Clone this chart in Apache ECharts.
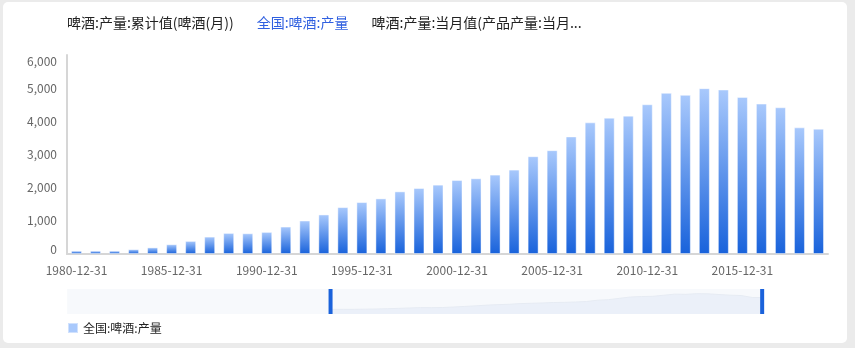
<!DOCTYPE html>
<html>
<head>
<meta charset="utf-8">
<script src="https://cdn.jsdelivr.net/npm/echarts@6/dist/echarts.min.js"></script>
<style>
html,body{margin:0;padding:0;width:855px;height:348px;background:#ebebeb;overflow:hidden;}
#card{position:absolute;left:3px;top:2px;width:844px;height:341px;background:#fff;border-radius:5px;}
#chart{position:absolute;left:0;top:0;width:855px;height:348px;}
</style>
</head>
<body>
<div id="card"></div>
<div id="chart"></div>
<script>
// Categories (year-end dates)
const categories = [
  '1980-12-31','1981-12-31','1982-12-31','1983-12-31','1984-12-31',
  '1985-12-31','1986-12-31','1987-12-31','1988-12-31','1989-12-31',
  '1990-12-31','1991-12-31','1992-12-31','1993-12-31','1994-12-31',
  '1995-12-31','1996-12-31','1997-12-31','1998-12-31','1999-12-31',
  '2000-12-31','2001-12-31','2002-12-31','2003-12-31','2004-12-31',
  '2005-12-31','2006-12-31','2007-12-31','2008-12-31','2009-12-31',
  '2010-12-31','2011-12-31','2012-12-31','2013-12-31','2014-12-31',
  '2015-12-31','2016-12-31','2017-12-31','2018-12-31','2019-12-31'
];
// 全国:啤酒:产量
const production = [
  100, 100, 100, 145, 200, 295, 395, 525, 636, 626,
  667, 828, 1010, 1192, 1414, 1566, 1677, 1889, 1990, 2091,
  2232, 2283, 2394, 2545, 2949, 3131, 3545, 3970, 4111, 4172,
  4515, 4859, 4798, 5000, 4960, 4737, 4535, 4424, 3818, 3778
];
// Earlier (empty) periods shown only in the zoom slider
const earlierCategories = [
  '1956-12-31','1957-12-31','1958-12-31','1959-12-31','1960-12-31','1961-12-31',
  '1962-12-31','1963-12-31','1964-12-31','1965-12-31','1966-12-31','1967-12-31',
  '1968-12-31','1969-12-31','1970-12-31','1971-12-31','1972-12-31','1973-12-31',
  '1974-12-31','1975-12-31','1976-12-31','1977-12-31','1978-12-31','1979-12-31'
];
const yTicks = { min: 0, max: 6000, interval: 1000 };
const seriesNames = ['啤酒:产量:累计值(啤酒(月))', '全国:啤酒:产量', '啤酒:产量:当月值(产品产量:当月值)'];

const zoomCategories = earlierCategories.concat(categories);
const zoomValues = earlierCategories.map(() => null).concat(production);

const chart = echarts.init(document.getElementById('chart'), null, { renderer: 'canvas' });
const font = '"Noto Sans CJK SC", "Noto Sans", sans-serif';

chart.setOption({
  backgroundColor: 'transparent',
  textStyle: { fontFamily: font },
  animation: false,
  legend: [
    {
      top: 16, left: 62, padding: 0,
      icon: 'none', itemWidth: 0, itemGap: 18,
      selectedMode: false,
      textStyle: { fontSize: 14, fontFamily: font, color: '#222' },
      data: [
        { name: seriesNames[0], textStyle: { color: '#222' } },
        { name: seriesNames[1], textStyle: { color: '#3060e0' } },
        { name: seriesNames[2], textStyle: { color: '#222', width: 216, overflow: 'truncate', ellipsis: '...' } }
      ]
    },
    {
      bottom: 14, left: 67, padding: 0,
      icon: 'rect', itemWidth: 10, itemHeight: 10, itemGap: 10,
      selectedMode: false,
      textStyle: { fontSize: 12, fontFamily: font, color: '#222' },
      data: [ { name: seriesNames[1], itemStyle: { color: '#a9c9fc' } } ]
    }
  ],
  grid: [
    { left: 67, right: 27, top: 55, bottom: 94, containLabel: false },
    { left: 67, right: 92, top: 289, height: 25, show: false }
  ],
  xAxis: [
    {
      type: 'category', data: categories, gridIndex: 0,
      axisLine: { show: true, lineStyle: { color: '#d6d6d6', width: 2 } },
      axisTick: { show: false },
      axisLabel: { interval: 4, color: '#666', fontSize: 12, margin: 10, fontFamily: font },
      splitLine: { show: false }
    },
    {
      type: 'category', data: zoomCategories, gridIndex: 1, show: false
    }
  ],
  yAxis: [
    {
      type: 'value', gridIndex: 0, min: yTicks.min, max: yTicks.max, interval: yTicks.interval,
      axisLine: { show: true, lineStyle: { color: '#d6d6d6', width: 2 } },
      axisTick: { show: false },
      splitLine: { show: false },
      axisLabel: {
        color: '#666', fontSize: 12, margin: 10, fontFamily: font,
        formatter: function (v) {
          const s = v.toLocaleString('en-US');
          if (v === yTicks.max) return '{top|' + s + '}';
          if (v === yTicks.min) return '{bot|' + s + '}';
          return s;
        },
        rich: {
          top: { padding: [12, 0, 0, 0], color: '#666', fontSize: 12, fontFamily: font },
          bot: { padding: [0, 0, 10, 0], color: '#666', fontSize: 12, fontFamily: font }
        }
      }
    },
    { type: 'value', gridIndex: 1, show: false }
  ],
  dataZoom: [
    {
      type: 'slider', xAxisIndex: 1, filterMode: 'none',
      start: 37.7, end: 100,
      left: 67, right: 92, top: 289, height: 25,
      showDetail: false, brushSelect: false, moveHandleSize: 0,
      borderColor: 'transparent',
      backgroundColor: '#f7f9fc',
      fillerColor: 'rgba(0,0,0,0)',
      showDataShadow: true,
      dataBackground: {
        lineStyle: { color: '#e6ebf3', width: 1, opacity: 1 },
        areaStyle: { color: '#ebf0f9', opacity: 1 }
      },
      selectedDataBackground: {
        lineStyle: { color: '#e6ebf3', width: 1, opacity: 1 },
        areaStyle: { color: '#ebf0f9', opacity: 1 }
      },
      handleIcon: 'path://M0,0 L4,0 L4,25 L0,25 Z',
      handleSize: '100%',
      handleStyle: { color: '#1a62db', borderColor: '#1a62db', borderWidth: 0 },
      emphasis: { handleStyle: { color: '#1a62db', borderColor: '#1a62db' } }
    }
  ],
  series: [
    { name: seriesNames[0], type: 'line', data: [], xAxisIndex: 0, yAxisIndex: 0, showSymbol: false },
    {
      name: seriesNames[1], type: 'bar', data: production, xAxisIndex: 0, yAxisIndex: 0,
      barWidth: 11,
      itemStyle: {
        color: new echarts.graphic.LinearGradient(0, 0, 0, 1, [
          { offset: 0, color: '#a9c9fc' },
          { offset: 1, color: '#1862db' }
        ]),
        borderColor: 'rgba(255,255,255,0.45)', borderWidth: 1
      }
    },
    { name: seriesNames[2], type: 'line', data: [], xAxisIndex: 0, yAxisIndex: 0, showSymbol: false },
    {
      name: 'zoomShadow', type: 'line', data: zoomValues, xAxisIndex: 1, yAxisIndex: 1,
      showSymbol: false, silent: true, lineStyle: { opacity: 0 }, itemStyle: { opacity: 0 }
    }
  ]
});
</script>
</body>
</html>
